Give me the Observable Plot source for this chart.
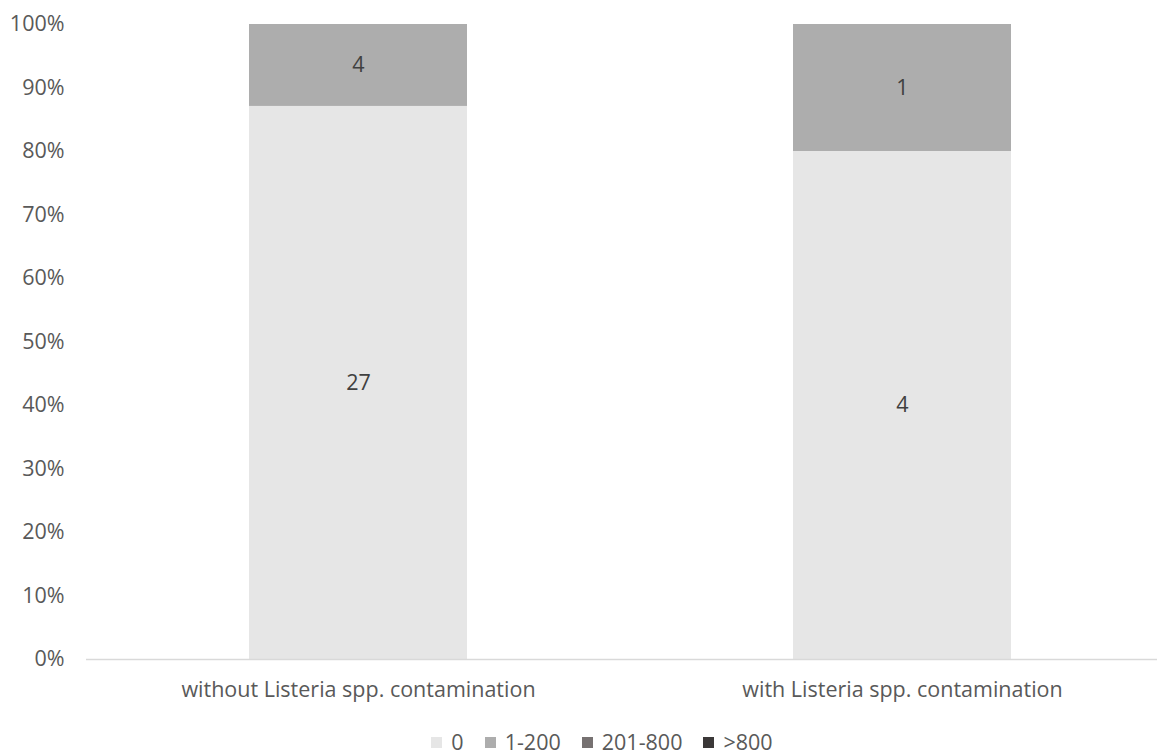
<!DOCTYPE html>
<html>
<head>
<meta charset="utf-8">
<script src="https://cdn.jsdelivr.net/npm/d3@7"></script>
<script src="https://cdn.jsdelivr.net/npm/@observablehq/plot@0.6"></script>
<style>
  body { margin: 0; background: #fff; font-family: "Open Sans", sans-serif; }
  #legend { display: flex; justify-content: center; gap: 21px; font-size: 21.5px; line-height: 26px; color: #595959; margin-left: 47px; margin-top: 14px; }
  #legend span.item { display: flex; align-items: center; gap: 9px; }
  #legend span.sw { width: 11px; height: 11px; display: inline-block; }
</style>
</head>
<body>
<div id="chart"></div>
<div id="legend"></div>
<script>
// Groups compared
const groups = ["without Listeria spp. contamination", "with Listeria spp. contamination"];
// Count classes (stack order, bottom to top)
const classes = ["0", "1-200", "201-800", ">800"];
const classColors = ["#e6e6e6", "#adadad", "#767171", "#3b3838"];
// Number of samples per class, one array per group
const countsWithout = [27, 4, 0, 0];
const countsWith = [4, 1, 0, 0];

const rows = [];
[countsWithout, countsWith].forEach((counts, gi) => {
  counts.forEach((n, ci) => rows.push({group: groups[gi], cls: classes[ci], n}));
});

const stackOpts = {x: "group", y: "n", z: "cls", order: classes, offset: "normalize"};
const FS = 21.5;

const chart = Plot.plot({
  width: 1157,
  height: 715,
  marginTop: 24,
  marginBottom: 56,
  marginLeft: 86,
  marginRight: 0,
  style: {fontFamily: "Open Sans, sans-serif", fontSize: FS + "px", color: "#595959", background: "#fff"},
  x: {domain: groups, range: [86, 1174], paddingInner: 0.6, paddingOuter: 0.3},
  y: {domain: [0, 1]},
  color: {domain: classes, range: classColors},
  marks: [
    Plot.barY(rows, Plot.stackY({...stackOpts, fill: "cls"})),
    Plot.ruleY([0], {stroke: "#d9d9d9", strokeWidth: 1.3}),
    Plot.axisY({ticks: d3.range(0, 1.01, 0.1), tickFormat: d => Math.round(d * 100) + "%", label: null, tickSize: 0, tickPadding: 22, fontSize: FS, fill: "#595959"}),
    Plot.axisX({label: null, tickSize: 0, tickPadding: 22, fontSize: FS, fill: "#595959"}),
    Plot.text(rows.filter(d => d.n > 0), Plot.stackY({...stackOpts, text: d => String(d.n), fill: "#404040", fontSize: FS}))
  ]
});
document.getElementById("chart").appendChild(chart);

const legend = document.getElementById("legend");
classes.forEach((c, i) => {
  const item = document.createElement("span");
  item.className = "item";
  const sw = document.createElement("span");
  sw.className = "sw";
  sw.style.background = classColors[i];
  item.appendChild(sw);
  item.appendChild(document.createTextNode(c));
  legend.appendChild(item);
});
</script>
</body>
</html>
